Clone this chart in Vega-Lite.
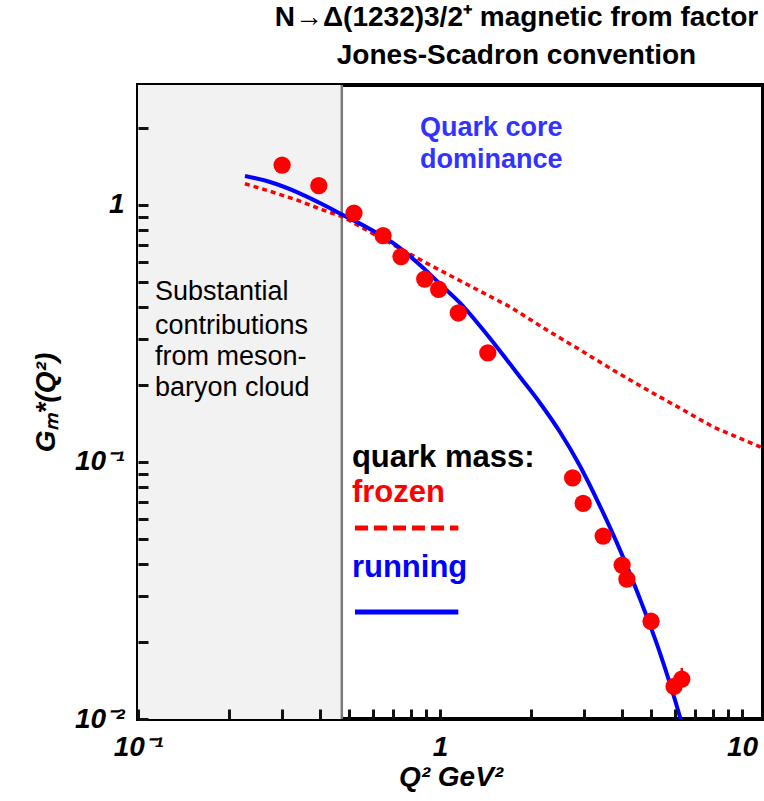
{
  "$schema": "https://vega.github.io/schema/vega-lite/v6.json",
  "width": 625,
  "height": 634,
  "autosize": "none",
  "padding": {"left": 138, "top": 85, "right": 1, "bottom": 82},
  "background": "white",
  "title": {
    "text": ["N→Δ(1232)3/2⁺ magnetic from factor", "Jones-Scadron convention"],
    "font": "Liberation Sans",
    "fontWeight": "bold",
    "fontSize": 28,
    "lineHeight": 38,
    "anchor": "middle",
    "dx": 66,
    "offset": 14,
    "color": "black"
  },
  "datasets": {
    "points": [
      {"q": 0.30, "g": 1.43},
      {"q": 0.397, "g": 1.19},
      {"q": 0.519, "g": 0.93},
      {"q": 0.648, "g": 0.76},
      {"q": 0.743, "g": 0.63},
      {"q": 0.89, "g": 0.515},
      {"q": 0.99, "g": 0.47},
      {"q": 1.15, "g": 0.38},
      {"q": 1.44, "g": 0.266},
      {"q": 2.75, "g": 0.0867},
      {"q": 2.98, "g": 0.069},
      {"q": 3.47, "g": 0.0515},
      {"q": 4.01, "g": 0.0397},
      {"q": 4.16, "g": 0.035},
      {"q": 5.0, "g": 0.024},
      {"q": 5.96, "g": 0.0134},
      {"q": 6.32, "g": 0.0143, "lo": 0.0137, "hi": 0.0158}
    ],
    "running": [
      {"q": 0.2261, "g": 1.297},
      {"q": 0.2736, "g": 1.229},
      {"q": 0.3360, "g": 1.123},
      {"q": 0.4005, "g": 1.018},
      {"q": 0.4774, "g": 0.914},
      {"q": 0.5862, "g": 0.806},
      {"q": 0.7208, "g": 0.693},
      {"q": 0.8587, "g": 0.584},
      {"q": 1.0, "g": 0.493},
      {"q": 1.165, "g": 0.4156},
      {"q": 1.357, "g": 0.338},
      {"q": 1.580, "g": 0.2704},
      {"q": 1.841, "g": 0.2142},
      {"q": 2.144, "g": 0.1697},
      {"q": 2.497, "g": 0.1308},
      {"q": 2.908, "g": 0.0965},
      {"q": 3.387, "g": 0.0674},
      {"q": 3.945, "g": 0.0455},
      {"q": 4.596, "g": 0.0293},
      {"q": 5.353, "g": 0.01806},
      {"q": 6.233, "g": 0.01018},
      {"q": 6.38, "g": 0.00922}
    ],
    "frozen": [
      {"q": 0.226, "g": 1.21},
      {"q": 0.274, "g": 1.13},
      {"q": 0.336, "g": 1.046},
      {"q": 0.410, "g": 0.956},
      {"q": 0.478, "g": 0.898},
      {"q": 0.586, "g": 0.785},
      {"q": 0.721, "g": 0.687},
      {"q": 0.927, "g": 0.584},
      {"q": 1.19, "g": 0.501},
      {"q": 1.71, "g": 0.401},
      {"q": 2.26, "g": 0.326},
      {"q": 2.91, "g": 0.273},
      {"q": 3.74, "g": 0.228},
      {"q": 4.85, "g": 0.191},
      {"q": 6.23, "g": 0.162},
      {"q": 8.02, "g": 0.137},
      {"q": 11.7, "g": 0.1134}
    ]
  },
  "layer": [
    {
      "data": {"values": [{"q": 0.1, "q2": 0.473}]},
      "mark": {"type": "rect", "fill": "#f2f2f2"},
      "encoding": {
        "x": {"field": "q", "type": "quantitative", "scale": {"type": "log", "domain": [0.1, 11.74], "nice": false}},
        "x2": {"field": "q2"}
      }
    },
    {
      "data": {"values": [{"q": 0.473}]},
      "mark": {"type": "rule", "color": "#7a7a7a", "strokeWidth": 2.5},
      "encoding": {
        "x": {"field": "q", "type": "quantitative"}
      }
    },
    {
      "data": {"name": "frozen"},
      "mark": {"type": "line", "color": "#ff0000", "strokeWidth": 3.5, "strokeDash": [5, 4], "clip": true},
      "encoding": {
        "x": {"field": "q", "type": "quantitative"},
        "y": {"field": "g", "type": "quantitative"}
      }
    },
    {
      "data": {"name": "running"},
      "mark": {"type": "line", "color": "#0000ff", "strokeWidth": 4, "clip": true, "interpolate": "monotone"},
      "encoding": {
        "x": {"field": "q", "type": "quantitative"},
        "y": {"field": "g", "type": "quantitative"}
      }
    },
    {
      "data": {"name": "points"},
      "transform": [{"filter": "isValid(datum.hi)"}],
      "mark": {"type": "rule", "color": "#ff0000", "strokeWidth": 2.5},
      "encoding": {
        "x": {"field": "q", "type": "quantitative"},
        "y": {"field": "lo", "type": "quantitative"},
        "y2": {"field": "hi"}
      }
    },
    {
      "data": {"name": "points"},
      "mark": {"type": "point", "filled": true, "shape": "circle", "size": 300, "color": "#ff0000", "opacity": 1},
      "encoding": {
        "x": {
          "field": "q",
          "type": "quantitative",
          "scale": {"type": "log", "domain": [0.1, 11.74], "nice": false},
          "axis": {
            "title": "Q² GeV²",
            "values": [0.1, 0.2, 0.3, 0.4, 0.5, 0.6, 0.7, 0.8, 0.9, 1, 2, 3, 4, 5, 6, 7, 8, 9, 10],
            "labelExpr": "datum.value == 0.1 ? '10⁻¹' : datum.value == 1 ? '1' : datum.value == 10 ? '10' : ''",
            "zindex": 2,
            "domain": false,
            "offset": -10,
            "tickSize": 10,
            "labelPadding": 14,
            "titlePadding": 2
          }
        },
        "y": {
          "field": "g",
          "type": "quantitative",
          "scale": {"type": "log", "domain": [0.01, 2.93], "nice": false},
          "axis": {
            "title": "Gₘ*(Q²)",
            "values": [0.01, 0.02, 0.03, 0.04, 0.05, 0.06, 0.07, 0.08, 0.09, 0.1, 0.2, 0.3, 0.4, 0.5, 0.6, 0.7, 0.8, 0.9, 1, 2],
            "labelExpr": "datum.value == 1 ? '1' : datum.value == 0.1 ? '10⁻¹' : datum.value == 0.01 ? '10⁻²' : ''",
            "zindex": 2,
            "domain": false,
            "offset": -10,
            "tickSize": 10,
            "labelPadding": 14,
            "titlePadding": 14
          }
        }
      }
    },
    {
      "data": {"values": [{"q": 0.859, "g": 1.99, "t": "Quark core"}, {"q": 0.859, "g": 1.50, "t": "dominance"}]},
      "mark": {"type": "text", "align": "left", "baseline": "middle", "font": "Liberation Sans", "fontSize": 27, "fontWeight": "bold", "color": "#3333ff"},
      "encoding": {
        "x": {"field": "q", "type": "quantitative"},
        "y": {"field": "g", "type": "quantitative"},
        "text": {"field": "t"}
      }
    },
    {
      "data": {"values": [
        {"q": 0.1138, "g": 0.459, "t": "Substantial"},
        {"q": 0.1138, "g": 0.338, "t": "contributions"},
        {"q": 0.1138, "g": 0.256, "t": "from meson-"},
        {"q": 0.1138, "g": 0.194, "t": "baryon cloud"}
      ]},
      "mark": {"type": "text", "align": "left", "baseline": "middle", "font": "Liberation Sans", "fontSize": 27, "color": "black"},
      "encoding": {
        "x": {"field": "q", "type": "quantitative"},
        "y": {"field": "g", "type": "quantitative"},
        "text": {"field": "t"}
      }
    },
    {
      "data": {"values": [{"q": 0.511, "g": 0.1037, "t": "quark mass:"}]},
      "mark": {"type": "text", "align": "left", "baseline": "middle", "font": "Liberation Sans", "fontSize": 31, "fontWeight": "bold", "color": "black"},
      "encoding": {
        "x": {"field": "q", "type": "quantitative"},
        "y": {"field": "g", "type": "quantitative"},
        "text": {"field": "t"}
      }
    },
    {
      "data": {"values": [{"q": 0.511, "g": 0.0757, "t": "frozen"}]},
      "mark": {"type": "text", "align": "left", "baseline": "middle", "font": "Liberation Sans", "fontSize": 31, "fontWeight": "bold", "color": "#ff0000"},
      "encoding": {
        "x": {"field": "q", "type": "quantitative"},
        "y": {"field": "g", "type": "quantitative"},
        "text": {"field": "t"}
      }
    },
    {
      "data": {"values": [{"q": 0.511, "g": 0.0387, "t": "running"}]},
      "mark": {"type": "text", "align": "left", "baseline": "middle", "font": "Liberation Sans", "fontSize": 31, "fontWeight": "bold", "color": "#0000ff"},
      "encoding": {
        "x": {"field": "q", "type": "quantitative"},
        "y": {"field": "g", "type": "quantitative"},
        "text": {"field": "t"}
      }
    },
    {
      "data": {"values": [{"q": 0.523, "g": 0.0554}, {"q": 1.15, "g": 0.0554}]},
      "mark": {"type": "line", "color": "#ff0000", "strokeWidth": 5, "strokeDash": [13, 6]},
      "encoding": {
        "x": {"field": "q", "type": "quantitative"},
        "y": {"field": "g", "type": "quantitative"}
      }
    },
    {
      "data": {"values": [{"q": 0.523, "g": 0.0261}, {"q": 1.15, "g": 0.0261}]},
      "mark": {"type": "line", "color": "#0000ff", "strokeWidth": 5},
      "encoding": {
        "x": {"field": "q", "type": "quantitative"},
        "y": {"field": "g", "type": "quantitative"}
      }
    }
  ],
  "config": {
    "view": {"stroke": "black", "strokeWidth": 4},
    "axis": {
      "grid": false,
      "tickColor": "#111111",
      "tickWidth": 3,
      "labelFont": "Liberation Sans",
      "labelFontWeight": "bold",
      "labelFontStyle": "italic",
      "labelFontSize": 28,
      "labelColor": "black",
      "labelFlush": false,
      "labelOverlap": false,
      "titleFont": "Liberation Sans",
      "titleFontWeight": "bold",
      "titleFontStyle": "italic",
      "titleFontSize": 28,
      "titleColor": "black"
    }
  }
}
